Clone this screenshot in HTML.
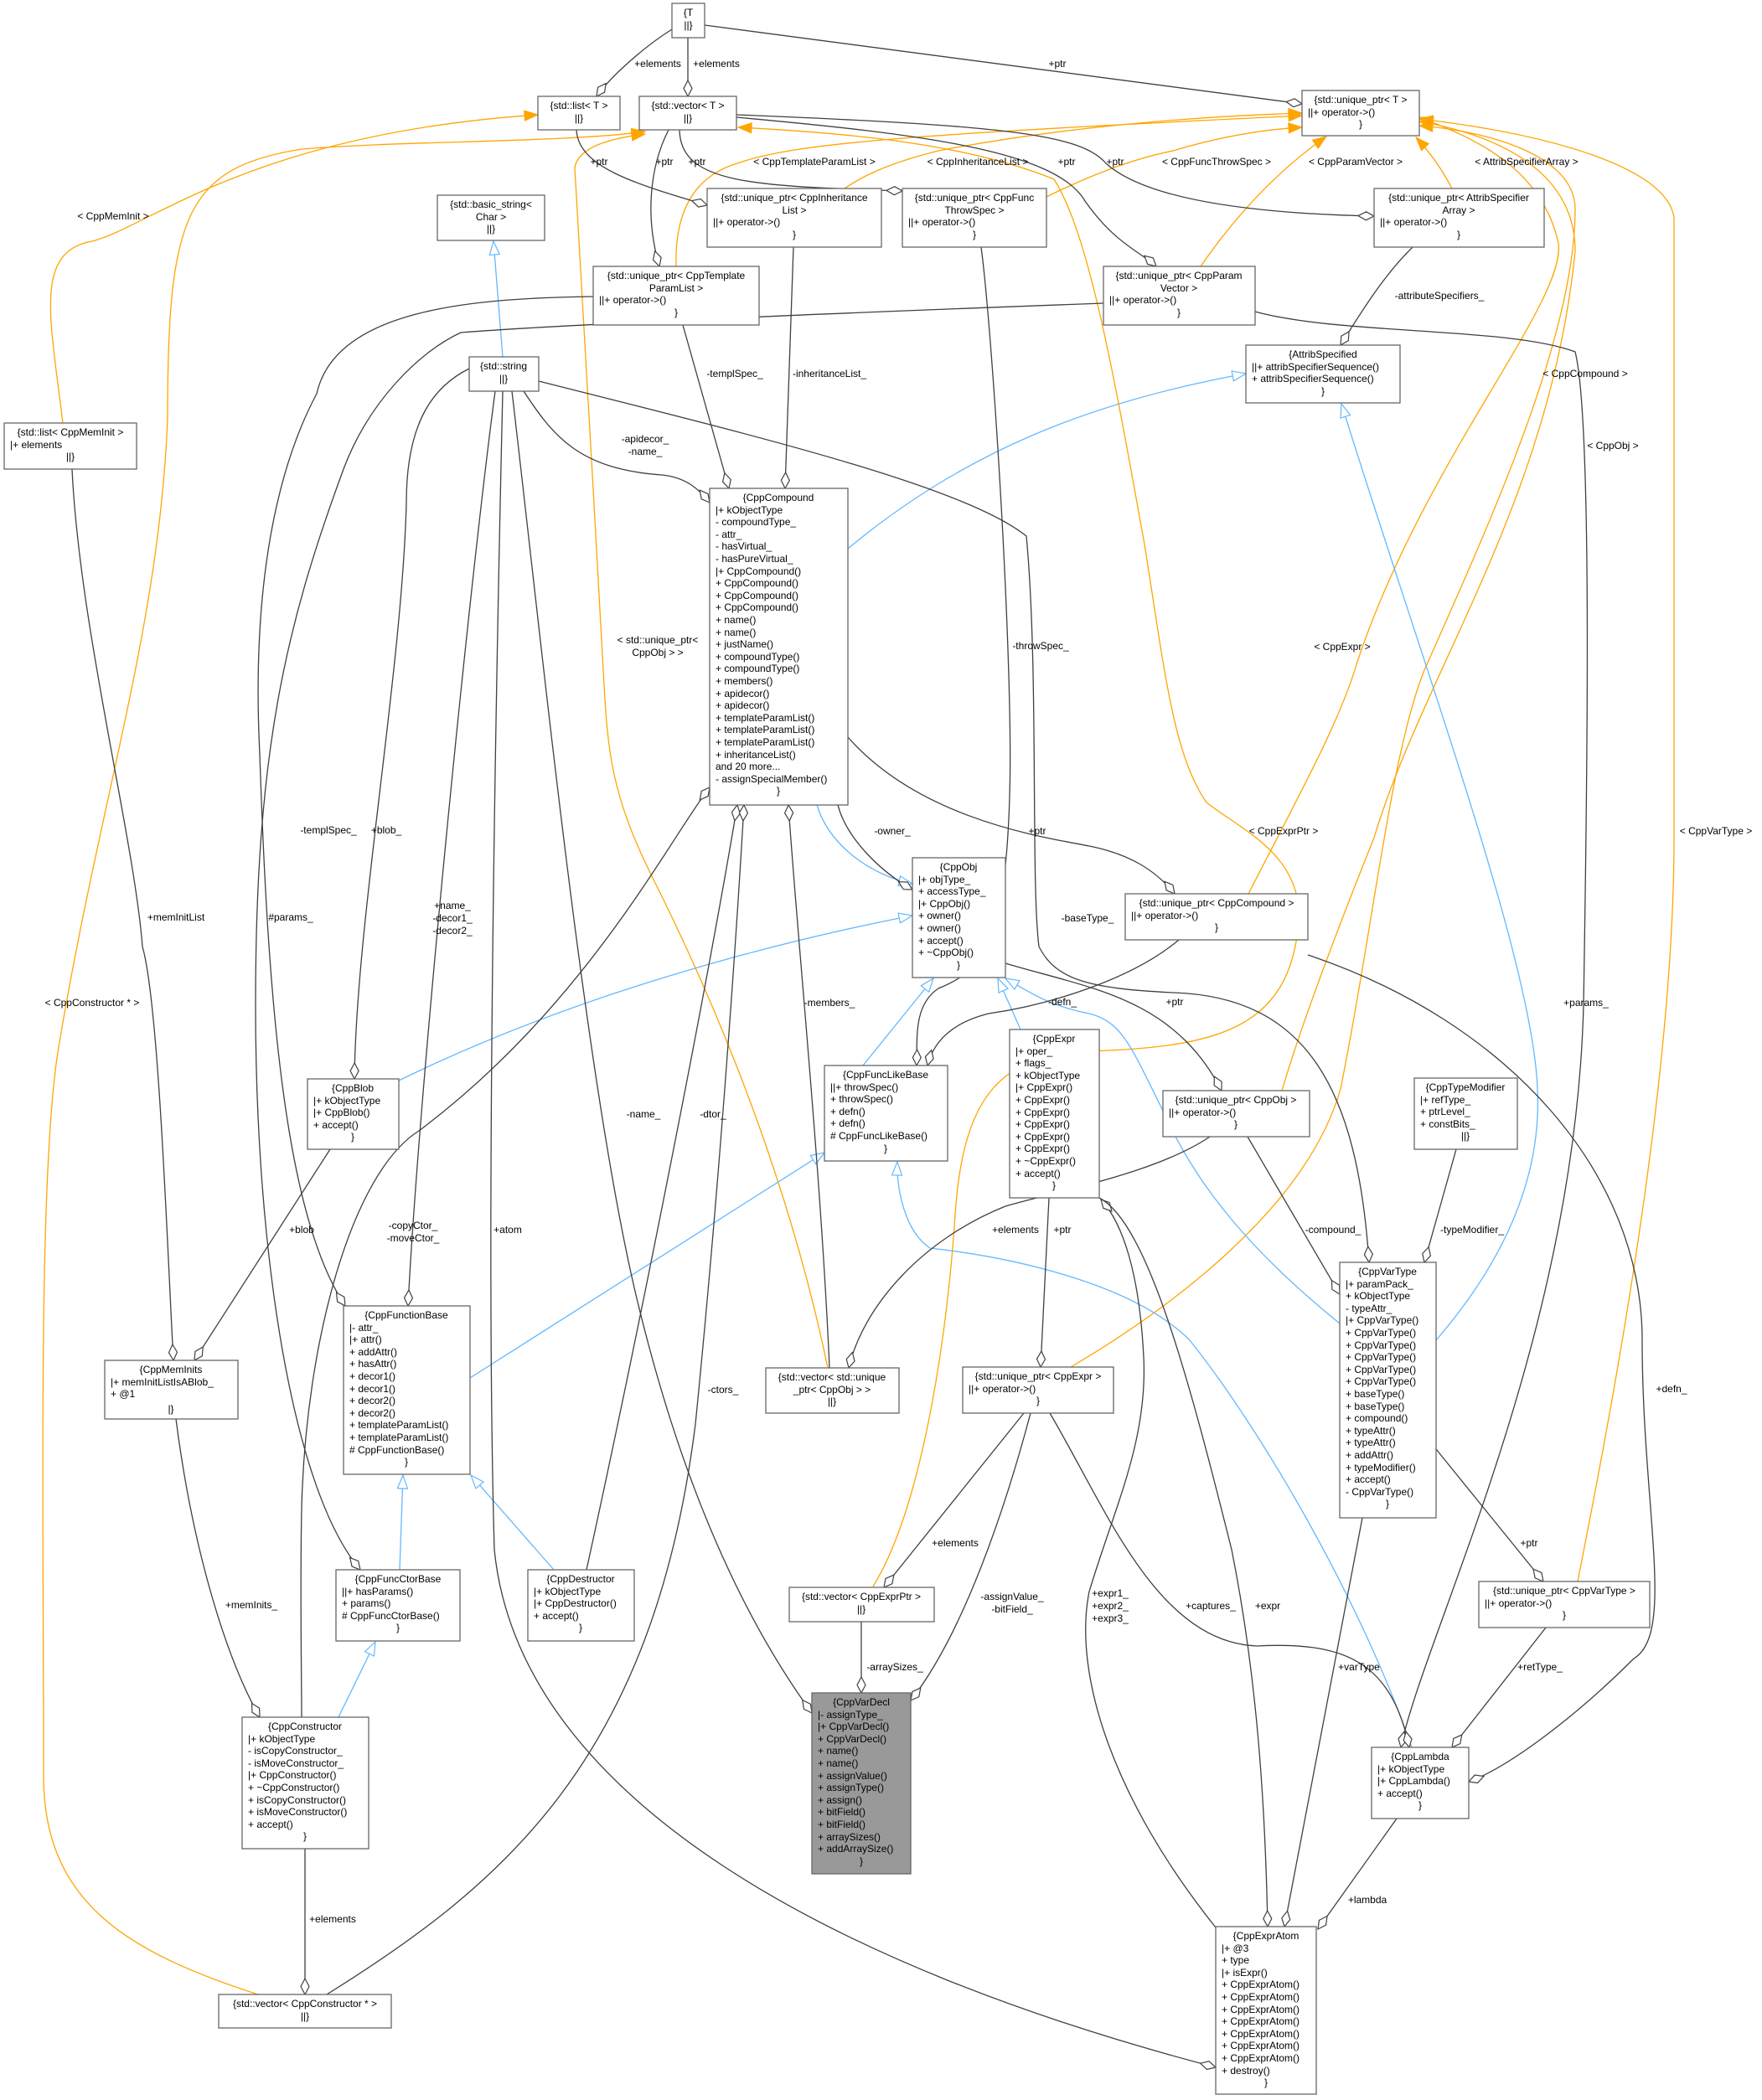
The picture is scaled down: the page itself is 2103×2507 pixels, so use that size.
<!DOCTYPE html>
<html><head><meta charset="utf-8"><style>
html,body{margin:0;padding:0;background:#fff}
svg{display:block}
text{font-family:"Liberation Sans",Arial,sans-serif;font-size:12px;fill:#000}
.n rect{fill:#fff;stroke:#666;stroke-width:1.3}
.k{fill:none;stroke:#404040;stroke-width:1.3}
.o{fill:none;stroke:#ffa500;stroke-width:1.3}
.b{fill:none;stroke:#63b8ff;stroke-width:1.3}
.c{text-anchor:middle}
.l text{text-anchor:middle}
</style></head><body>
<svg width="2103" height="2507" viewBox="0 0 2103 2507" xmlns="http://www.w3.org/2000/svg">
<defs>
<marker id="d" markerWidth="22" markerHeight="12" refX="20" refY="6" orient="auto" markerUnits="userSpaceOnUse"><path d="M1,6 L10.5,1 L20,6 L10.5,11 Z" fill="#fff" stroke="#404040" stroke-width="1.2"/></marker>
<marker id="a" markerWidth="18" markerHeight="14" refX="17" refY="7" orient="auto" markerUnits="userSpaceOnUse"><path d="M1,1 L17,7 L1,13 Z" fill="#ffa500" stroke="#ffa500"/></marker>
<marker id="t" markerWidth="18" markerHeight="14" refX="17" refY="7" orient="auto" markerUnits="userSpaceOnUse"><path d="M1,1 L17,7 L1,13 Z" fill="#fff" stroke="#63b8ff" stroke-width="1.2"/></marker>
</defs>

<!-- orange template edges -->
<g class="o" marker-end="url(#a)">
<path d="M75,505 C60,380 40,300 110,288 C180,270 300,160 642,137"/>
<path d="M308,2381 C150,2330 52,2270 52,2120 C52,1800 45,1400 70,1250 C120,950 190,750 200,500 C200,260 220,200 360,178 C480,168 680,170 770,157"/>
<path d="M988,1633 C950,1450 880,1250 780,1050 C730,950 725,900 720,800 C710,600 690,300 686,200 C690,175 730,165 770,160"/>
<path d="M1042,1894 C1100,1800 1130,1600 1140,1450 C1150,1300 1200,1260 1300,1255 C1450,1250 1540,1230 1550,1100 C1555,1020 1480,990 1440,958 C1400,900 1390,800 1366,650 C1330,450 1300,280 1258,214 C1150,170 1000,158 881,152"/>
<path d="M1278,1632 C1400,1560 1560,1440 1600,1300 C1640,1100 1660,900 1700,800 C1780,620 1880,400 1880,250 C1880,180 1760,155 1694,150"/>
<path d="M1530,1302 C1560,1200 1620,1050 1640,1000 C1700,800 1850,600 1880,300 C1880,200 1780,160 1694,145"/>
<path d="M1490,1067 C1550,950 1600,860 1620,790 C1700,550 1870,360 1860,290 C1840,200 1760,165 1694,140"/>
<path d="M1883,1888 C1920,1700 1998,1300 1998,1000 L1998,260 C1990,200 1850,160 1694,142"/>
<path d="M807,318 C805,250 830,210 880,195 C950,170 1100,160 1554,138"/>
<path d="M1008,225 C1030,210 1060,195 1120,180 C1250,155 1400,140 1554,135"/>
<path d="M1249,235 C1300,210 1350,190 1400,180 C1450,165 1500,155 1554,152"/>
<path d="M1433,318 C1480,250 1530,200 1583,163"/>
<path d="M1733,225 C1720,200 1705,180 1690,164"/>
</g>

<!-- blue inheritance -->
<g class="b" marker-end="url(#t)">
<path d="M600,426 L589,288"/>
<path d="M975,961 C990,1010 1040,1045 1089,1055"/>
<path d="M476,1290 C700,1180 950,1120 1089,1093"/>
<path d="M1030,1272 L1114,1168"/>
<path d="M1218,1229 L1191,1168"/>
<path d="M1599,1580 C1500,1500 1430,1420 1390,1330 C1350,1250 1340,1220 1300,1210 C1250,1200 1230,1185 1200,1168"/>
<path d="M1012,655 C1150,540 1300,480 1487,446"/>
<path d="M1714,1600 C1800,1500 1840,1400 1835,1300 C1830,1150 1700,800 1601,482"/>
<path d="M561,1645 L984,1376"/>
<path d="M1685,2086 C1620,1900 1500,1700 1420,1600 C1350,1530 1200,1500 1110,1490 C1080,1470 1070,1420 1071,1387"/>
<path d="M477,1874 L481,1761"/>
<path d="M661,1874 L562,1761"/>
<path d="M404,2050 L448,1960"/>
</g>

<!-- dark associations -->
<g class="k" marker-end="url(#d)">
<path d="M802,35 C770,55 730,90 712,115"/>
<path d="M821,45 L821,115"/>
<path d="M841,30 L1554,124"/>
<path d="M688,155 C690,200 760,220 844,245"/>
<path d="M798,155 C775,200 770,260 787,318"/>
<path d="M811,155 C812,220 900,222 1077,228"/>
<path d="M879,140 C1100,160 1260,180 1295,240 C1330,290 1360,300 1380,318"/>
<path d="M879,137 C1200,150 1290,160 1320,195 C1370,240 1500,255 1640,258"/>
<path d="M625,467 C660,520 690,560 790,567 C820,570 835,585 847,600"/>
<path d="M815,388 L870,583"/>
<path d="M947,295 L937,583"/>
<path d="M1686,295 C1650,330 1620,380 1600,412"/>
<path d="M1171,295 C1185,400 1210,800 1205,950 C1200,1130 1170,1160 1120,1180 C1090,1200 1095,1240 1094,1272"/>
<path d="M708,354 C560,356 400,370 378,470 C330,560 300,700 310,900 C320,1200 340,1450 412,1559"/>
<path d="M1317,362 C1100,370 700,385 550,397 C500,420 440,480 410,560 C340,750 305,900 305,1200 C305,1500 350,1780 430,1874"/>
<path d="M1498,372 C1600,400 1800,390 1880,420 C1900,500 1895,900 1890,1200 C1880,1600 1700,1950 1672,2086"/>
<path d="M560,440 C520,460 485,500 485,600 C480,800 425,1100 423,1288"/>
<path d="M591,467 C560,700 500,1300 487,1559"/>
<path d="M600,467 C590,900 580,1500 590,1850 C620,2150 1000,2350 1451,2468"/>
<path d="M611,467 C650,800 700,1300 760,1550 C820,1800 900,1950 969,2045"/>
<path d="M643,455 C900,520 1150,580 1225,640 C1240,800 1230,1050 1240,1130 C1260,1170 1300,1180 1400,1185 C1560,1190 1620,1300 1634,1507"/>
<path d="M1000,961 C1010,1000 1050,1040 1089,1062"/>
<path d="M1012,880 C1100,980 1250,1000 1300,1010 C1350,1020 1380,1040 1402,1067"/>
<path d="M1489,1357 L1599,1545"/>
<path d="M1407,1122 C1350,1170 1250,1200 1180,1210 C1140,1220 1115,1240 1107,1272"/>
<path d="M1561,1140 C1800,1220 1960,1400 1960,1600 C1960,1800 2000,1950 1950,1980 C1880,2050 1800,2110 1753,2127"/>
<path d="M1200,1150 C1300,1180 1400,1190 1458,1302"/>
<path d="M360,2050 C360,2000 358,1900 360,1800 C365,1600 420,1400 500,1350 C700,1200 800,1000 847,940"/>
<path d="M700,1874 C760,1600 840,1200 880,961"/>
<path d="M390,2381 C600,2250 780,2100 830,1700 C860,1400 880,1100 888,961"/>
<path d="M990,1633 C980,1400 950,1100 941,961"/>
<path d="M86,560 C95,750 160,1000 170,1130 C190,1200 200,1500 207,1624"/>
<path d="M394,1372 L232,1624"/>
<path d="M210,1694 C230,1850 270,1980 310,2050"/>
<path d="M364,2207 L364,2381"/>
<path d="M1444,1357 C1380,1400 1270,1420 1200,1440 C1100,1480 1030,1560 1013,1633"/>
<path d="M1252,1430 L1242,1632"/>
<path d="M1222,1687 L1055,1895"/>
<path d="M1230,1687 C1200,1800 1150,1950 1087,2030"/>
<path d="M1028,1936 L1028,2021"/>
<path d="M1253,1687 C1320,1800 1380,1960 1500,1965 C1600,1960 1660,1980 1682,2086"/>
<path d="M1451,2301 C1330,2150 1280,2000 1300,1900 C1330,1800 1370,1720 1365,1620 C1360,1520 1340,1460 1314,1432"/>
<path d="M1312,1430 C1370,1460 1420,1650 1470,1850 C1500,2000 1510,2150 1513,2300"/>
<path d="M1626,1812 L1533,2300"/>
<path d="M1667,2171 L1573,2303"/>
<path d="M1738,1372 L1700,1507"/>
<path d="M1714,1730 L1842,1888"/>
<path d="M1845,1943 L1733,2086"/>
</g>

<!-- edge labels -->
<g class="l">
<text x="785" y="80">+elements</text><text x="855" y="80">+elements</text>
<text x="1262" y="80">+ptr</text>
<text x="715" y="197">+ptr</text><text x="793" y="197">+ptr</text><text x="832" y="197">+ptr</text>
<text x="1273" y="197">+ptr</text><text x="1331" y="197">+ptr</text>
<text x="972" y="197">&lt; CppTemplateParamList &gt;</text>
<text x="1167" y="197">&lt; CppInheritanceList &gt;</text>
<text x="1452" y="197">&lt; CppFuncThrowSpec &gt;</text>
<text x="1618" y="197">&lt; CppParamVector &gt;</text>
<text x="1822" y="197">&lt; AttribSpecifierArray &gt;</text>
<text x="135" y="262">&lt; CppMemInit &gt;</text>
<text x="1718" y="357">-attributeSpecifiers_</text>
<text x="877" y="450">-templSpec_</text><text x="990" y="450">-inheritanceList_</text>
<text x="1892" y="450">&lt; CppCompound &gt;</text>
<text x="770" y="528">-apidecor_</text><text x="770" y="543">-name_</text>
<text x="1925" y="536">&lt; CppObj &gt;</text>
<text x="785" y="768">&lt; std::unique_ptr&lt;</text><text x="785" y="783">CppObj &gt; &gt;</text>
<text x="1242" y="775">-throwSpec_</text>
<text x="1602" y="776">&lt; CppExpr &gt;</text>
<text x="392" y="995">-templSpec_</text><text x="461" y="995">+blob_</text>
<text x="1065" y="996">-owner_</text><text x="1238" y="996">+ptr</text>
<text x="1532" y="996">&lt; CppExprPtr &gt;</text>
<text x="2048" y="996">&lt; CppVarType &gt;</text>
<text x="210" y="1099">+memInitList</text><text x="347" y="1099">#params_</text>
<text x="540" y="1085">+name_</text><text x="540" y="1100">-decor1_</text><text x="540" y="1115">-decor2_</text>
<text x="1298" y="1100">-baseType_</text>
<text x="110" y="1201">&lt; CppConstructor * &gt;</text>
<text x="990" y="1201">-members_</text>
<text x="1268" y="1200">-defn_</text><text x="1402" y="1200">+ptr</text>
<text x="1893" y="1201">+params_</text>
<text x="768" y="1334">-name_</text><text x="851" y="1334">-dtor_</text>
<text x="493" y="1467">-copyCtor_</text><text x="493" y="1482">-moveCtor_</text>
<text x="360" y="1472">+blob</text><text x="606" y="1472">+atom</text>
<text x="1212" y="1472">+elements</text><text x="1268" y="1472">+ptr</text>
<text x="1591" y="1472">-compound_</text><text x="1757" y="1472">-typeModifier_</text>
<text x="863" y="1663">-ctors_</text>
<text x="1995" y="1662">+defn_</text>
<text x="1140" y="1846">+elements</text><text x="1825" y="1846">+ptr</text>
<text x="300" y="1920">+memInits_</text>
<text x="1208" y="1910">-assignValue_</text><text x="1208" y="1925">-bitField_</text>
<text x="1325" y="1906">+expr1_</text><text x="1325" y="1921">+expr2_</text><text x="1325" y="1936">+expr3_</text>
<text x="1445" y="1921">+captures_</text><text x="1513" y="1921">+expr</text>
<text x="1068" y="1994">-arraySizes_</text><text x="1622" y="1994">+varType</text><text x="1838" y="1994">+retType_</text>
<text x="1632" y="2272">+lambda</text>
<text x="397" y="2295">+elements</text>
</g>

<!-- nodes -->
<g class="n">
<rect x="802" y="4" width="39" height="41"/><text class="c" x="821.5" y="19">{T</text><text class="c" x="821.5" y="34">||}</text>
<rect x="642" y="115" width="98" height="40"/><text class="c" x="691" y="130">{std::list&lt; T &gt;</text><text class="c" x="691" y="145">||}</text>
<rect x="763" y="115" width="116" height="40"/><text class="c" x="821" y="130">{std::vector&lt; T &gt;</text><text class="c" x="821" y="145">||}</text>
<rect x="1554" y="108" width="140" height="54"/><text class="c" x="1624" y="123">{std::unique_ptr&lt; T &gt;</text><text x="1561" y="138">||+ operator-&gt;()</text><text class="c" x="1624" y="152">}</text>
<rect x="522" y="233" width="128" height="54"/><text class="c" x="586" y="248">{std::basic_string&lt;</text><text class="c" x="586" y="263">Char &gt;</text><text class="c" x="586" y="277">||}</text>
<rect x="844" y="225" width="208" height="70"/><text class="c" x="948" y="240">{std::unique_ptr&lt; CppInheritance</text><text class="c" x="948" y="255">List &gt;</text><text x="851" y="269">||+ operator-&gt;()</text><text class="c" x="948" y="284">}</text>
<rect x="1077" y="225" width="172" height="70"/><text class="c" x="1163" y="240">{std::unique_ptr&lt; CppFunc</text><text class="c" x="1163" y="255">ThrowSpec &gt;</text><text x="1084" y="269">||+ operator-&gt;()</text><text class="c" x="1163" y="284">}</text>
<rect x="1640" y="225" width="203" height="70"/><text class="c" x="1741" y="240">{std::unique_ptr&lt; AttribSpecifier</text><text class="c" x="1741" y="255">Array &gt;</text><text x="1647" y="269">||+ operator-&gt;()</text><text class="c" x="1741" y="284">}</text>
<rect x="708" y="318" width="198" height="70"/><text class="c" x="807" y="333">{std::unique_ptr&lt; CppTemplate</text><text class="c" x="807" y="348">ParamList &gt;</text><text x="715" y="362">||+ operator-&gt;()</text><text class="c" x="807" y="377">}</text>
<rect x="1317" y="318" width="181" height="70"/><text class="c" x="1407" y="333">{std::unique_ptr&lt; CppParam</text><text class="c" x="1407" y="348">Vector &gt;</text><text x="1324" y="362">||+ operator-&gt;()</text><text class="c" x="1407" y="377">}</text>
<rect x="1487" y="412" width="184" height="69"/><text class="c" x="1579" y="427">{AttribSpecified</text><text x="1494" y="442">||+ attribSpecifierSequence()</text><text x="1494" y="456">+ attribSpecifierSequence()</text><text class="c" x="1579" y="471">}</text>
<rect x="560" y="426" width="83" height="41"/><text class="c" x="601" y="441">{std::string</text><text class="c" x="601" y="456">||}</text>
<rect x="5" y="505" width="158" height="55"/><text class="c" x="84" y="520">{std::list&lt; CppMemInit &gt;</text><text x="12" y="535">|+ elements</text><text class="c" x="84" y="549">||}</text>

<rect x="847" y="583" width="165" height="378"/>
<text class="c" x="929" y="598">{CppCompound</text>
<text x="854" y="613">|+ kObjectType</text>
<text x="854" y="627">- compoundType_</text>
<text x="854" y="642">- attr_</text>
<text x="854" y="656">- hasVirtual_</text>
<text x="854" y="671">- hasPureVirtual_</text>
<text x="854" y="686">|+ CppCompound()</text>
<text x="854" y="700">+ CppCompound()</text>
<text x="854" y="715">+ CppCompound()</text>
<text x="854" y="729">+ CppCompound()</text>
<text x="854" y="744">+ name()</text>
<text x="854" y="759">+ name()</text>
<text x="854" y="773">+ justName()</text>
<text x="854" y="788">+ compoundType()</text>
<text x="854" y="802">+ compoundType()</text>
<text x="854" y="817">+ members()</text>
<text x="854" y="832">+ apidecor()</text>
<text x="854" y="846">+ apidecor()</text>
<text x="854" y="861">+ templateParamList()</text>
<text x="854" y="875">+ templateParamList()</text>
<text x="854" y="890">+ templateParamList()</text>
<text x="854" y="905">+ inheritanceList()</text>
<text x="854" y="919">and 20 more...</text>
<text x="854" y="934">- assignSpecialMember()</text>
<text class="c" x="929" y="948">}</text>

<rect x="1089" y="1024" width="111" height="143"/>
<text class="c" x="1144" y="1039">{CppObj</text><text x="1096" y="1054">|+ objType_</text><text x="1096" y="1068">+ accessType_</text><text x="1096" y="1083">|+ CppObj()</text><text x="1096" y="1097">+ owner()</text><text x="1096" y="1112">+ owner()</text><text x="1096" y="1127">+ accept()</text><text x="1096" y="1141">+ ~CppObj()</text><text class="c" x="1144" y="1156">}</text>

<rect x="1343" y="1067" width="218" height="55"/><text class="c" x="1452" y="1082">{std::unique_ptr&lt; CppCompound &gt;</text><text x="1350" y="1097">||+ operator-&gt;()</text><text class="c" x="1452" y="1111">}</text>

<rect x="1205" y="1229" width="107" height="201"/>
<text class="c" x="1258" y="1244">{CppExpr</text><text x="1212" y="1259">|+ oper_</text><text x="1212" y="1273">+ flags_</text><text x="1212" y="1288">+ kObjectType</text><text x="1212" y="1302">|+ CppExpr()</text><text x="1212" y="1317">+ CppExpr()</text><text x="1212" y="1332">+ CppExpr()</text><text x="1212" y="1346">+ CppExpr()</text><text x="1212" y="1361">+ CppExpr()</text><text x="1212" y="1375">+ CppExpr()</text><text x="1212" y="1390">+ ~CppExpr()</text><text x="1212" y="1405">+ accept()</text><text class="c" x="1258" y="1419">}</text>

<rect x="984" y="1272" width="147" height="114"/>
<text class="c" x="1057" y="1287">{CppFuncLikeBase</text><text x="991" y="1302">||+ throwSpec()</text><text x="991" y="1316">+ throwSpec()</text><text x="991" y="1331">+ defn()</text><text x="991" y="1345">+ defn()</text><text x="991" y="1360"># CppFuncLikeBase()</text><text class="c" x="1057" y="1375">}</text>

<rect x="367" y="1288" width="109" height="84"/>
<text class="c" x="421" y="1303">{CppBlob</text><text x="374" y="1318">|+ kObjectType</text><text x="374" y="1332">|+ CppBlob()</text><text x="374" y="1347">+ accept()</text><text class="c" x="421" y="1361">}</text>

<rect x="1388" y="1302" width="175" height="55"/><text class="c" x="1475" y="1317">{std::unique_ptr&lt; CppObj &gt;</text><text x="1395" y="1332">||+ operator-&gt;()</text><text class="c" x="1475" y="1346">}</text>

<rect x="1688" y="1287" width="123" height="85"/>
<text class="c" x="1749" y="1302">{CppTypeModifier</text><text x="1695" y="1317">|+ refType_</text><text x="1695" y="1331">+ ptrLevel_</text><text x="1695" y="1346">+ constBits_</text><text class="c" x="1749" y="1360">||}</text>

<rect x="1599" y="1507" width="115" height="305"/>
<text class="c" x="1656" y="1522">{CppVarType</text><text x="1606" y="1537">|+ paramPack_</text><text x="1606" y="1551">+ kObjectType</text><text x="1606" y="1566">- typeAttr_</text><text x="1606" y="1580">|+ CppVarType()</text><text x="1606" y="1595">+ CppVarType()</text><text x="1606" y="1610">+ CppVarType()</text><text x="1606" y="1624">+ CppVarType()</text><text x="1606" y="1639">+ CppVarType()</text><text x="1606" y="1653">+ CppVarType()</text><text x="1606" y="1668">+ baseType()</text><text x="1606" y="1683">+ baseType()</text><text x="1606" y="1697">+ compound()</text><text x="1606" y="1712">+ typeAttr()</text><text x="1606" y="1726">+ typeAttr()</text><text x="1606" y="1741">+ addAttr()</text><text x="1606" y="1756">+ typeModifier()</text><text x="1606" y="1770">+ accept()</text><text x="1606" y="1785">- CppVarType()</text><text class="c" x="1656" y="1799">}</text>

<rect x="410" y="1559" width="151" height="201"/>
<text class="c" x="485" y="1574">{CppFunctionBase</text><text x="417" y="1589">|- attr_</text><text x="417" y="1603">|+ attr()</text><text x="417" y="1618">+ addAttr()</text><text x="417" y="1632">+ hasAttr()</text><text x="417" y="1647">+ decor1()</text><text x="417" y="1662">+ decor1()</text><text x="417" y="1676">+ decor2()</text><text x="417" y="1691">+ decor2()</text><text x="417" y="1705">+ templateParamList()</text><text x="417" y="1720">+ templateParamList()</text><text x="417" y="1735"># CppFunctionBase()</text><text class="c" x="485" y="1749">}</text>

<rect x="125" y="1624" width="159" height="70"/>
<text class="c" x="204" y="1639">{CppMemInits</text><text x="132" y="1654">|+ memInitListIsABlob_</text><text x="132" y="1668">+ @1</text><text class="c" x="204" y="1686">|}</text>

<rect x="914" y="1633" width="159" height="54"/><text class="c" x="993" y="1648">{std::vector&lt; std::unique</text><text class="c" x="993" y="1663">_ptr&lt; CppObj &gt; &gt;</text><text class="c" x="993" y="1677">||}</text>

<rect x="1149" y="1632" width="180" height="55"/><text class="c" x="1239" y="1647">{std::unique_ptr&lt; CppExpr &gt;</text><text x="1156" y="1662">||+ operator-&gt;()</text><text class="c" x="1239" y="1676">}</text>

<rect x="401" y="1874" width="148" height="85"/>
<text class="c" x="475" y="1889">{CppFuncCtorBase</text><text x="408" y="1904">||+ hasParams()</text><text x="408" y="1918">+ params()</text><text x="408" y="1933"># CppFuncCtorBase()</text><text class="c" x="475" y="1947">}</text>

<rect x="630" y="1874" width="127" height="85"/>
<text class="c" x="693" y="1889">{CppDestructor</text><text x="637" y="1904">|+ kObjectType</text><text x="637" y="1918">|+ CppDestructor()</text><text x="637" y="1933">+ accept()</text><text class="c" x="693" y="1947">}</text>

<rect x="942" y="1895" width="173" height="41"/><text class="c" x="1028" y="1910">{std::vector&lt; CppExprPtr &gt;</text><text class="c" x="1028" y="1925">||}</text>

<rect x="1765" y="1888" width="204" height="55"/><text class="c" x="1867" y="1903">{std::unique_ptr&lt; CppVarType &gt;</text><text x="1772" y="1918">||+ operator-&gt;()</text><text class="c" x="1867" y="1932">}</text>

<rect x="969" y="2021" width="118" height="216" style="fill:#999"/>
<text class="c" x="1028" y="2036">{CppVarDecl</text><text x="976" y="2051">|- assignType_</text><text x="976" y="2065">|+ CppVarDecl()</text><text x="976" y="2080">+ CppVarDecl()</text><text x="976" y="2094">+ name()</text><text x="976" y="2109">+ name()</text><text x="976" y="2124">+ assignValue()</text><text x="976" y="2138">+ assignType()</text><text x="976" y="2153">+ assign()</text><text x="976" y="2167">+ bitField()</text><text x="976" y="2182">+ bitField()</text><text x="976" y="2197">+ arraySizes()</text><text x="976" y="2211">+ addArraySize()</text><text class="c" x="1028" y="2226">}</text>

<rect x="289" y="2050" width="151" height="157"/>
<text class="c" x="364" y="2065">{CppConstructor</text><text x="296" y="2080">|+ kObjectType</text><text x="296" y="2094">- isCopyConstructor_</text><text x="296" y="2109">- isMoveConstructor_</text><text x="296" y="2123">|+ CppConstructor()</text><text x="296" y="2138">+ ~CppConstructor()</text><text x="296" y="2153">+ isCopyConstructor()</text><text x="296" y="2167">+ isMoveConstructor()</text><text x="296" y="2182">+ accept()</text><text class="c" x="364" y="2196">}</text>

<rect x="1637" y="2086" width="116" height="85"/>
<text class="c" x="1695" y="2101">{CppLambda</text><text x="1644" y="2116">|+ kObjectType</text><text x="1644" y="2130">|+ CppLambda()</text><text x="1644" y="2145">+ accept()</text><text class="c" x="1695" y="2159">}</text>

<rect x="1451" y="2300" width="120" height="200"/>
<text class="c" x="1511" y="2315">{CppExprAtom</text><text x="1458" y="2330">|+ @3</text><text x="1458" y="2344">+ type</text><text x="1458" y="2359">|+ isExpr()</text><text x="1458" y="2373">+ CppExprAtom()</text><text x="1458" y="2388">+ CppExprAtom()</text><text x="1458" y="2403">+ CppExprAtom()</text><text x="1458" y="2417">+ CppExprAtom()</text><text x="1458" y="2432">+ CppExprAtom()</text><text x="1458" y="2446">+ CppExprAtom()</text><text x="1458" y="2461">+ CppExprAtom()</text><text x="1458" y="2476">+ destroy()</text><text class="c" x="1511" y="2490">}</text>

<rect x="261" y="2381" width="206" height="40"/><text class="c" x="364" y="2396">{std::vector&lt; CppConstructor * &gt;</text><text class="c" x="364" y="2411">||}</text>
</g>
</svg>
</body></html>
